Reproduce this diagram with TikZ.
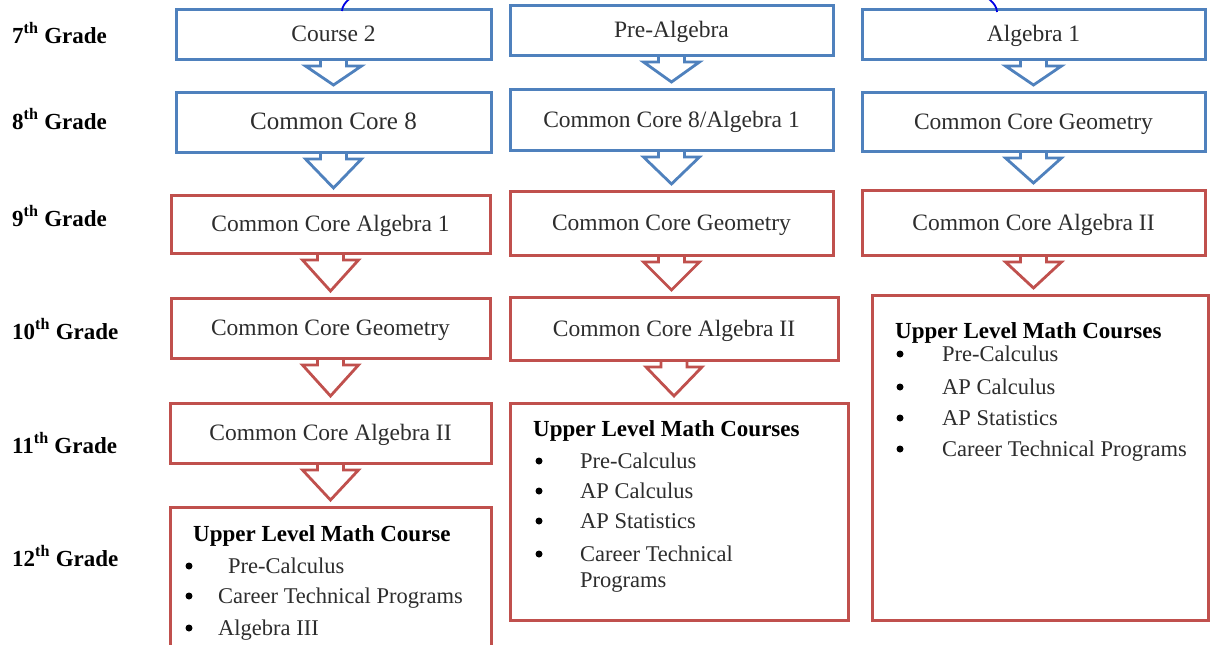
\documentclass[tikz,border=0pt]{standalone}
\usepackage{fontspec}
\setmainfont{Liberation Serif}
\usetikzlibrary{calc}
\definecolor{offblue}{RGB}{79,129,189}
\definecolor{offred}{RGB}{192,80,77}
\definecolor{txtgray}{RGB}{45,45,45}
\newcommand{\cbox}[7]{\node[boxstyle=#2, minimum width={#5-#3}, minimum height={#6-#4}] (#1) at (#3,#4) {#7};}
\newcommand{\flowarrow}[3]{%
  \draw[#3, line width=2.8pt, line join=miter] let \p1=(#1.south), \p2=(#2.north) in
    (\x1-13pt,\y1) -- (\x1-13pt,\y1-7pt) -- (\x1-28pt,\y1-7pt) -- (\x1,\y2+7pt)
    -- (\x1+28pt,\y1-7pt) -- (\x1+13pt,\y1-7pt) -- (\x1+13pt,\y1);}
\begin{document}
\begin{tikzpicture}[x=1pt,y=-1pt,
  boxstyle/.style={draw=#1, line width=3pt, anchor=north west, inner sep=0pt, outer sep=0pt,
    fill=white, align=center, text=txtgray, font=\fontsize{23.5}{28}\selectfont,
    text height=15pt, text depth=0pt},
  grade/.style={anchor=base west, inner sep=0pt, font=\bfseries\fontsize{23}{27}\selectfont, text=black},
  ttl/.style={anchor=base west, inner sep=0pt, font=\bfseries\fontsize{23}{27}\selectfont, text=black},
  itm/.style={anchor=base west, inner sep=0pt, font=\fontsize{22.5}{27}\selectfont, text=txtgray},
  bul/.style={circle, fill=black, inner sep=0pt, minimum size=7pt}]
\useasboundingbox (0,0) rectangle (1211,645);
\fill[white] (0,0) rectangle (1211,645);
\clip (0,0) rectangle (1211,645);

% grade labels
\node[grade] (g7) at (12,43) {7\textsuperscript{th} Grade};
\node[grade] (g8) at (12,129) {8\textsuperscript{th} Grade};
\node[grade] (g9) at (12,226) {9\textsuperscript{th} Grade};
\node[grade] (g10) at (12,339) {10\textsuperscript{th} Grade};
\node[grade] (g11) at (12,453) {11\textsuperscript{th} Grade};
\node[grade] (g12) at (12,566) {12\textsuperscript{th} Grade};

% column 1
\cbox{b71}{offblue}{176}{9}{491}{59}{Course 2}
\cbox{b81}{offblue}{176}{92}{491}{152}{\fontsize{25}{30}\selectfont Common Core 8}
\cbox{b91}{offred}{171}{195}{490}{253}{Common Core Algebra 1}
\cbox{b101}{offred}{171}{298}{490}{358}{Common Core Geometry}
\cbox{b111}{offred}{170}{403}{491}{463}{Common Core Algebra II}
\cbox{b121}{offred}{170}{507}{491}{665}{}

% column 2
\cbox{b72}{offblue}{510}{5}{833}{55}{Pre-Algebra}
\cbox{b82}{offblue}{510}{89}{833}{150}{Common Core 8/Algebra 1}
\cbox{b92}{offred}{510}{191}{833}{255}{Common Core Geometry}
\cbox{b102}{offred}{510}{297}{838}{360}{Common Core Algebra II}
\cbox{b112}{offred}{510}{403}{848}{620}{}

% column 3
\cbox{b73}{offblue}{862}{9}{1205}{59}{Algebra 1}
\cbox{b83}{offblue}{862}{92}{1205}{151}{Common Core Geometry}
\cbox{b93}{offred}{862}{190}{1205}{255}{Common Core Algebra II}
\cbox{b103}{offred}{872}{295}{1208}{620}{}

% arrows
\flowarrow{b71}{b81}{offblue}
\flowarrow{b81}{b91}{offblue}
\flowarrow{b91}{b101}{offred}
\flowarrow{b101}{b111}{offred}
\flowarrow{b111}{b121}{offred}
\flowarrow{b72}{b82}{offblue}
\flowarrow{b82}{b92}{offblue}
\flowarrow{b92}{b102}{offred}
\flowarrow{b102}{b112}{offred}
\flowarrow{b73}{b83}{offblue}
\flowarrow{b83}{b93}{offblue}
\flowarrow{b93}{b103}{offred}

% upper level lists, column 1
\node[ttl] (u1t) at (193,541) {Upper Level Math Course};
\node[bul] (u1b1) at (189,566) {};
\node[itm] (u1i1) at (228,573) {Pre-Calculus};
\node[bul] (u1b2) at (189,596) {};
\node[itm] (u1i2) at (218,603) {Career Technical Programs};
\node[bul] (u1b3) at (189,628) {};
\node[itm] (u1i3) at (218,635) {Algebra III};

% column 2
\node[ttl] (u2t) at (533,436) {Upper Level Math Courses};
\node[bul] (u2b1) at (539,461) {};
\node[itm] (u2i1) at (580,468) {Pre-Calculus};
\node[bul] (u2b2) at (539,491) {};
\node[itm] (u2i2) at (580,498) {AP Calculus};
\node[bul] (u2b3) at (539,521) {};
\node[itm] (u2i3) at (580,528) {AP Statistics};
\node[bul] (u2b4) at (539,554) {};
\node[itm] (u2i4) at (580,561) {Career Technical};
\node[itm] (u2i5) at (580,587) {Programs};

% column 3
\node[ttl] (u3t) at (895,338) {Upper Level Math Courses};
\node[bul] (u3b1) at (900,354) {};
\node[itm] (u3i1) at (942,361) {Pre-Calculus};
\node[bul] (u3b2) at (900,387) {};
\node[itm] (u3i2) at (942,394) {AP Calculus};
\node[bul] (u3b3) at (900,418) {};
\node[itm] (u3i3) at (942,425) {AP Statistics};
\node[bul] (u3b4) at (900,449) {};
\node[itm] (u3i4) at (942,456) {Career Technical Programs};

% blue arc at the top
\draw[blue!90!black, line width=1.8pt] (342,11) .. controls (345,-60) and (995,-60) .. (997,12);
\end{tikzpicture}
\end{document}
